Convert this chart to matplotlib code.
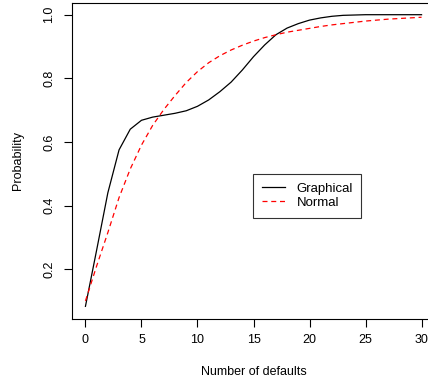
import matplotlib
matplotlib.use("Agg")
import matplotlib.pyplot as plt

plt.rcParams['font.family'] = ['Liberation Sans', 'DejaVu Sans']

# number of defaults
defaults = list(range(31))

# graphical model probabilities
graphical = [0.083, 0.26, 0.44, 0.575, 0.64, 0.668, 0.678, 0.684, 0.690, 0.698,
             0.712, 0.732, 0.758, 0.788, 0.826, 0.868, 0.905, 0.937, 0.958, 0.972,
             0.983, 0.990, 0.995, 0.998, 0.999, 1.0, 1.0, 1.0, 1.0, 1.0, 1.0]

# normal approximation
normal = [0.10, 0.21, 0.315, 0.425, 0.515, 0.59, 0.652, 0.702, 0.746, 0.787,
          0.821, 0.849, 0.871, 0.889, 0.904, 0.917, 0.928, 0.937, 0.945, 0.951,
          0.957, 0.963, 0.968, 0.972, 0.976, 0.980, 0.983, 0.986, 0.988, 0.990, 0.992]

xticks = [0, 5, 10, 15, 20, 25, 30]
yticks = [0.2, 0.4, 0.6, 0.8, 1.0]

fig = plt.figure(figsize=(4.28, 3.85), dpi=100)
ax = fig.add_axes([72 / 428, 1 - 319 / 385, (435 - 72) / 428, (319 - 3) / 385])

ax.plot(defaults, graphical, color='black', lw=0.9, label='Graphical')
ax.plot(defaults, normal, color='red', lw=0.9, dashes=(4, 3), label='Normal')

ax.set_xlim(-1.2, 31.2)
ax.set_ylim(0.0432, 1.0368)
ax.set_xticks(xticks)
ax.set_xticklabels([str(t) for t in xticks])
ax.set_yticks(yticks)
ax.set_yticklabels(['0.2', '0.4', '0.6', '0.8', '1.0'], rotation=90, va='center')
ax.tick_params(axis='both', direction='out', length=6, width=0.8, labelsize=9)
ax.tick_params(axis='x', pad=5)
ax.tick_params(axis='y', pad=6)
for s in ax.spines.values():
    s.set_linewidth(0.8)

ax.set_xlabel('Number of defaults', fontsize=9, labelpad=14)
ax.set_ylabel('Probability', fontsize=9, labelpad=14)

leg = ax.legend(loc='upper left', bbox_to_anchor=(253 / 428, 1 - 174 / 385),
                bbox_transform=fig.transFigure, fontsize=9.5, frameon=True,
                fancybox=False, handlelength=1.8, handletextpad=0.85,
                borderpad=0.65, labelspacing=0.15, borderaxespad=0)
leg.get_frame().set_edgecolor('black')
leg.get_frame().set_linewidth(0.8)

fig.savefig('out.png', dpi=100)
